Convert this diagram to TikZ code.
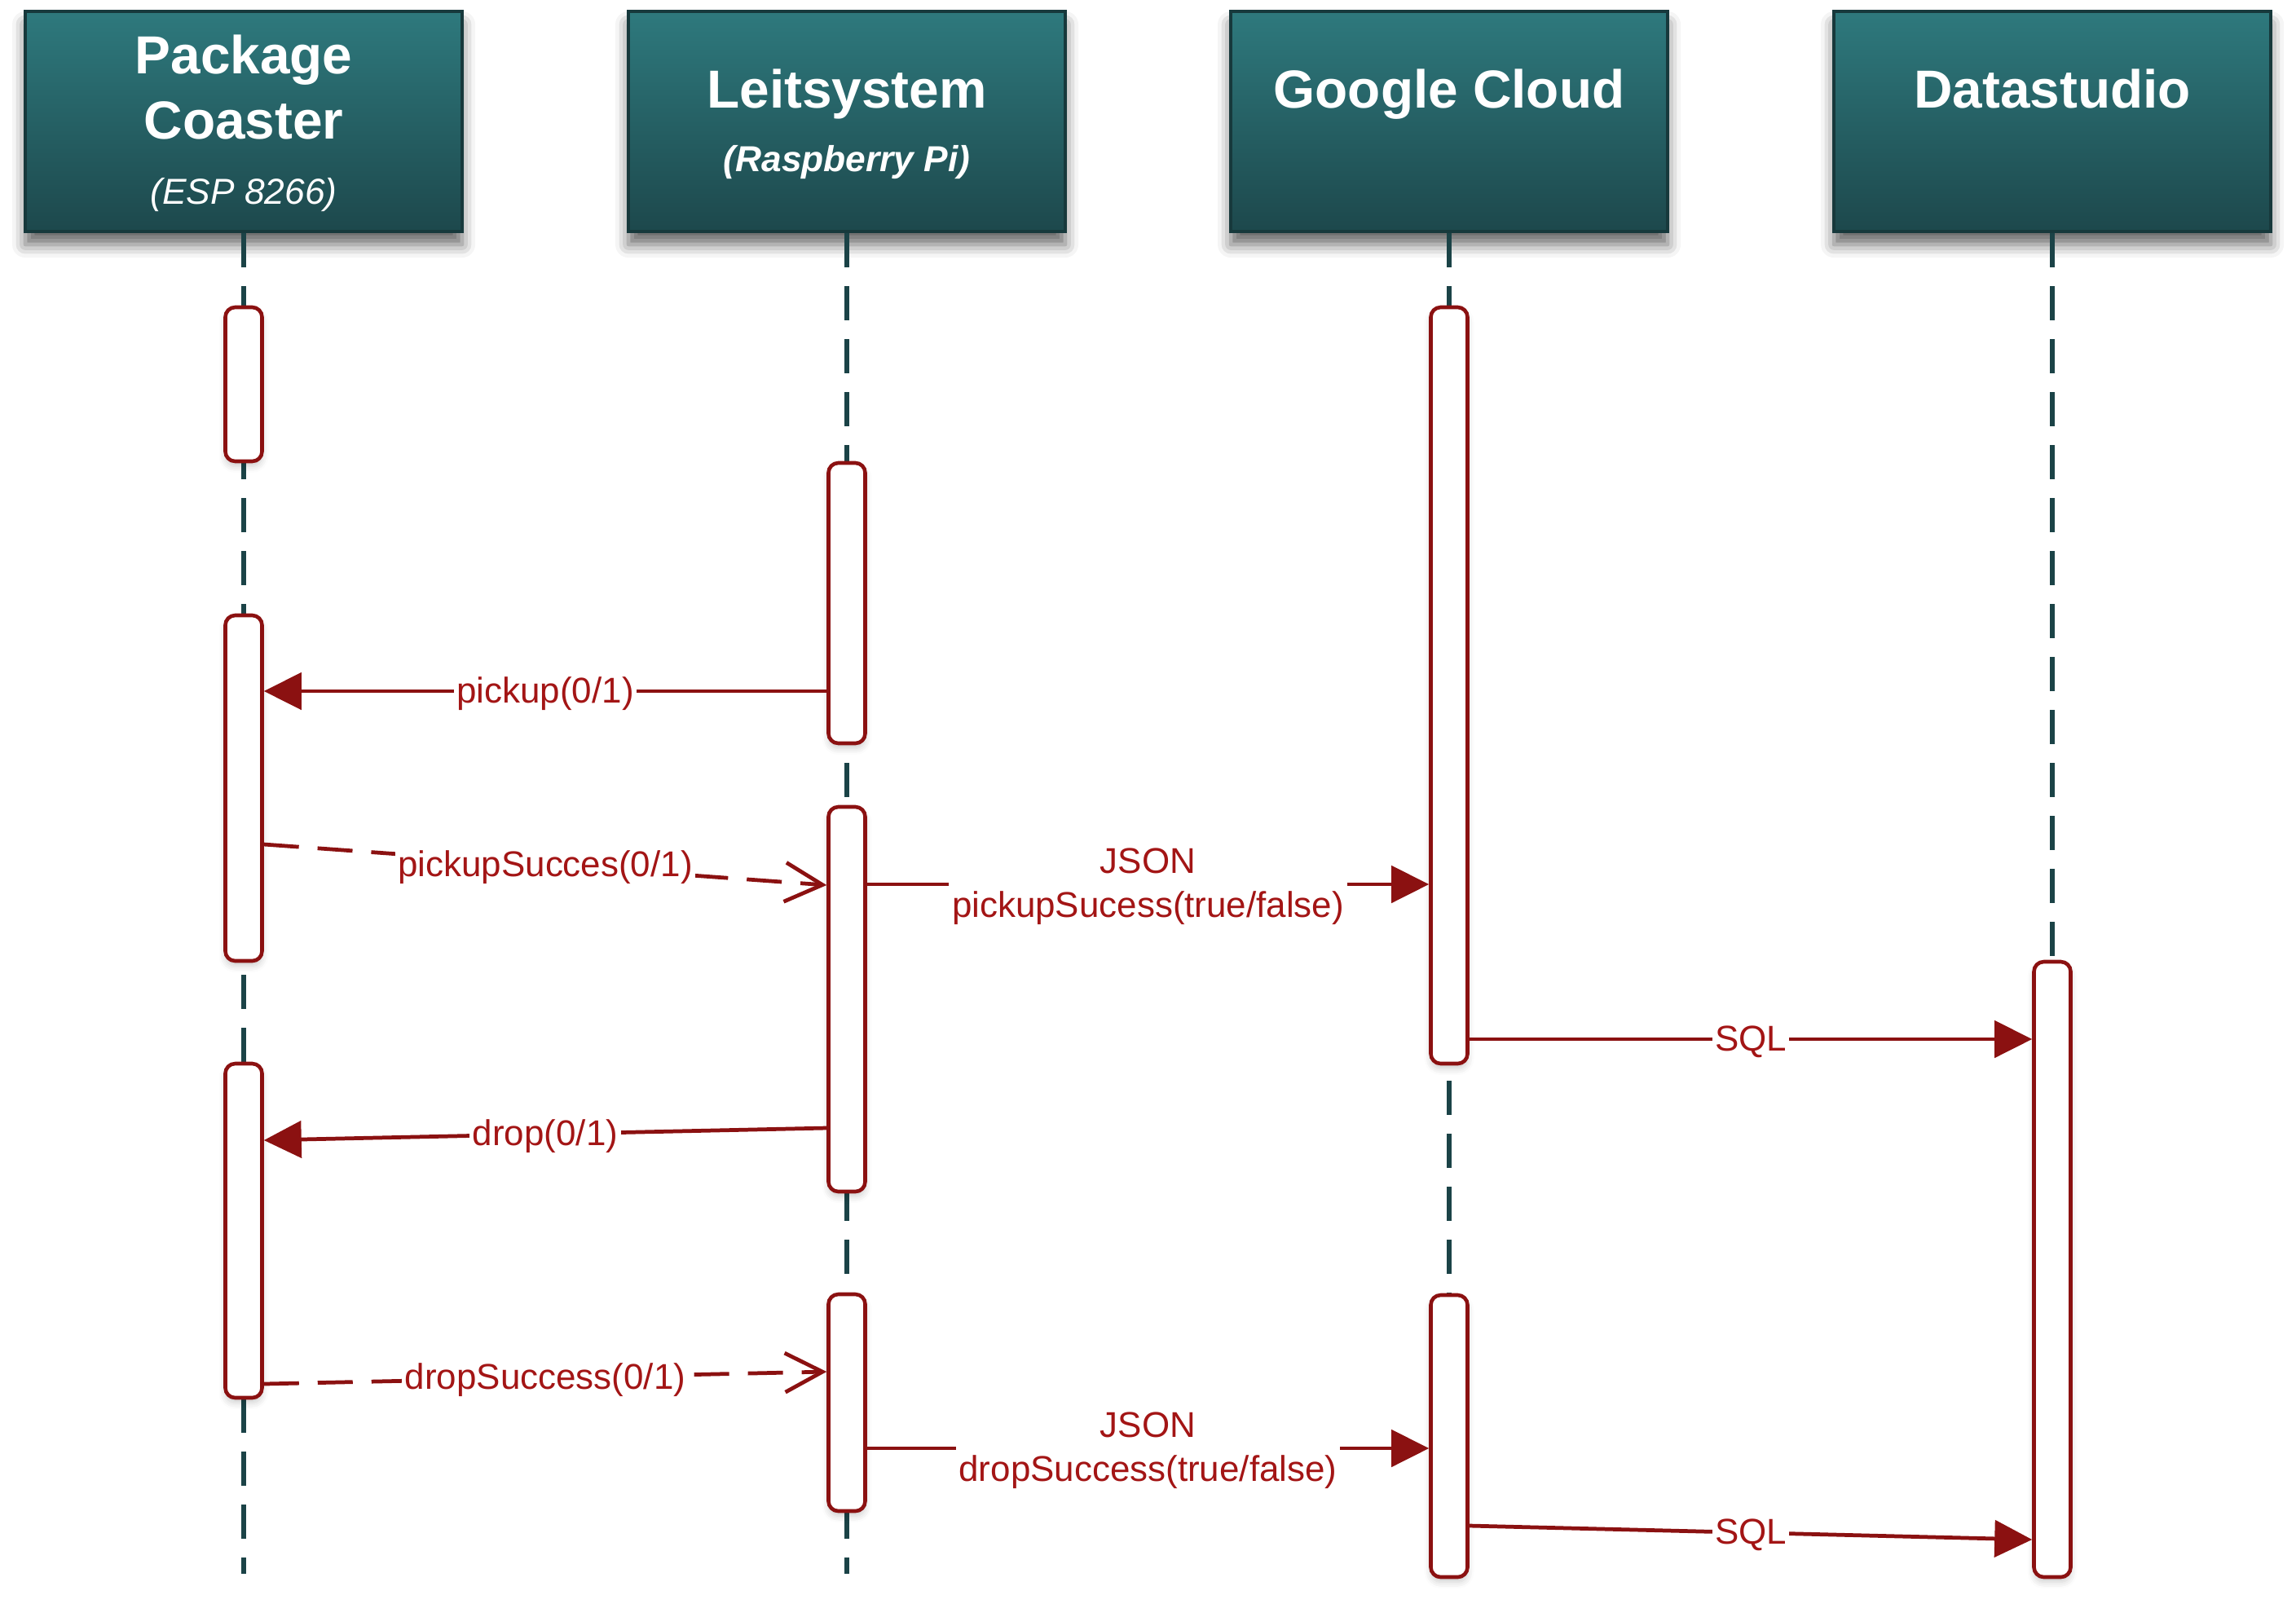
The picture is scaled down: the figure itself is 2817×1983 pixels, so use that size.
\documentclass[tikz,border=0pt]{standalone}
\usepackage{fontspec}
\setmainfont{Liberation Sans}
\usepackage{xcolor}
\usetikzlibrary{arrows.meta,positioning,shadows.blur}
\definecolor{headtop}{HTML}{2E797D}
\definecolor{headbot}{HTML}{1D484C}
\definecolor{headline}{HTML}{17393C}
\definecolor{lifec}{HTML}{1B4347}
\definecolor{msgc}{HTML}{8B1111}
\definecolor{msgtext}{HTML}{A31515}
\tikzset{
  head/.style={draw=headline, line width=1.4pt, top color=headtop, bottom color=headbot,
    minimum width=53.6mm, minimum height=27.0mm, inner sep=0pt,
    blur shadow={shadow xshift=0mm, shadow yshift=-1.6mm, shadow blur radius=1.6mm, shadow opacity=60}},
  title/.style={text=white, font=\fontsize{18.7}{22.8}\selectfont\bfseries, anchor=base},
  sub/.style={text=white, font=\fontsize{12.6}{15}\selectfont\itshape, anchor=base},
  lifeline/.style={draw=lifec, line width=1.45pt, dash pattern=on 4.2mm off 2.3mm},
  act/.style={draw=msgc, fill=white, line width=1.3pt, rounded corners=1.2mm,
    minimum width=4.5mm, inner sep=0pt,
    blur shadow={shadow xshift=0mm, shadow yshift=-0.6mm, shadow blur radius=0.8mm, shadow opacity=20}},
  call/.style={draw=msgc, line width=1.35pt, -{Triangle[length=4.6mm,width=4.5mm]}},
  reply/.style={draw=msgc, line width=1.35pt, dash pattern=on 4.3mm off 2.3mm,
    -{Straight Barb[length=4.6mm,width=4.8mm,line width=1.35pt]}},
  lab/.style={text=msgtext, fill=white, inner sep=1pt, align=center, yshift=-0.3mm,
    font=\fontsize{12.5}{15.4}\selectfont},
}

\begin{document}
\begin{tikzpicture}[x=0.1mm,y=-0.1mm]
  \useasboundingbox (0,0) rectangle (2817,1983);
  % participants
  \node[head] (pc) at (299,149) {};
  \node[head] (ls) at (1039,149) {};
  \node[head] (gc) at (1778,149) {};
  \node[head] (ds) at (2518,149) {};
  \node[title] (pcname) at (299,90) {Package};
  \node[title] (pcname2) at (299,170) {Coaster};
  \node[sub] (pcsub) at (299,250) {(ESP 8266)};
  \node[title] (lsname) at (1039,132) {Leitsystem};
  \node[sub,font=\fontsize{12.6}{15}\selectfont\bfseries\itshape] (lssub) at (1039,210) {(Raspberry Pi)};
  \node[title] (gcname) at (1778,132) {Google Cloud};
  \node[title] (dsname) at (2518,132) {Datastudio};
  % lifelines
  \coordinate (pcend) at (299,1931);
  \coordinate (lsend) at (1039,1931);
  \coordinate (gcend) at (1778,1931);
  \coordinate (dsend) at (2518,1931);
  \draw[lifeline] (pc.south) -- (pcend);
  \draw[lifeline] (ls.south) -- (lsend);
  \draw[lifeline] (gc.south) -- (gcend);
  \draw[lifeline] (ds.south) -- (dsend);
  % activations
  \node[act,minimum height=18.9mm] (pc1) at (299,471.5) {};
  \node[act,minimum height=42.4mm] (pc2) at (299,967) {};
  \node[act,minimum height=41.0mm] (pc3) at (299,1510) {};
  \node[act,minimum height=34.4mm] (ls1) at (1039,740) {};
  \node[act,minimum height=47.2mm] (ls2) at (1039,1226) {};
  \node[act,minimum height=26.6mm] (ls3) at (1039,1721) {};
  \node[act,minimum height=92.8mm] (gc1) at (1778,841) {};
  \node[act,minimum height=34.6mm] (gc2) at (1778,1762) {};
  \node[act,minimum height=75.5mm] (ds1) at (2518,1557.5) {};
  % messages
  \draw[call] (ls1.west |- 0,848) -- node[lab] {pickup(0/1)} (pc2.east |- 0,848);
  \draw[reply] (pc2.east |- 0,1036) -- node[lab] {pickupSucces(0/1)} (ls2.west |- 0,1086);
  \draw[call] (ls2.east |- 0,1085) -- node[lab] {JSON\\pickupSucess(true/false)} (gc1.west |- 0,1085);
  \draw[call] (gc1.east |- 0,1275) -- node[lab] {SQL} (ds1.west |- 0,1275);
  \draw[call] (ls2.west |- 0,1384) -- node[lab] {drop(0/1)} (pc3.east |- 0,1399);
  \draw[reply] (pc3.east |- 0,1698) -- node[lab] {dropSuccess(0/1)} (ls3.west |- 0,1683);
  \draw[call] (ls3.east |- 0,1777) -- node[lab] {JSON\\dropSuccess(true/false)} (gc2.west |- 0,1777);
  \draw[call] (gc2.east |- 0,1872) -- node[lab] {SQL} (ds1.west |- 0,1889);
\end{tikzpicture}
\end{document}
